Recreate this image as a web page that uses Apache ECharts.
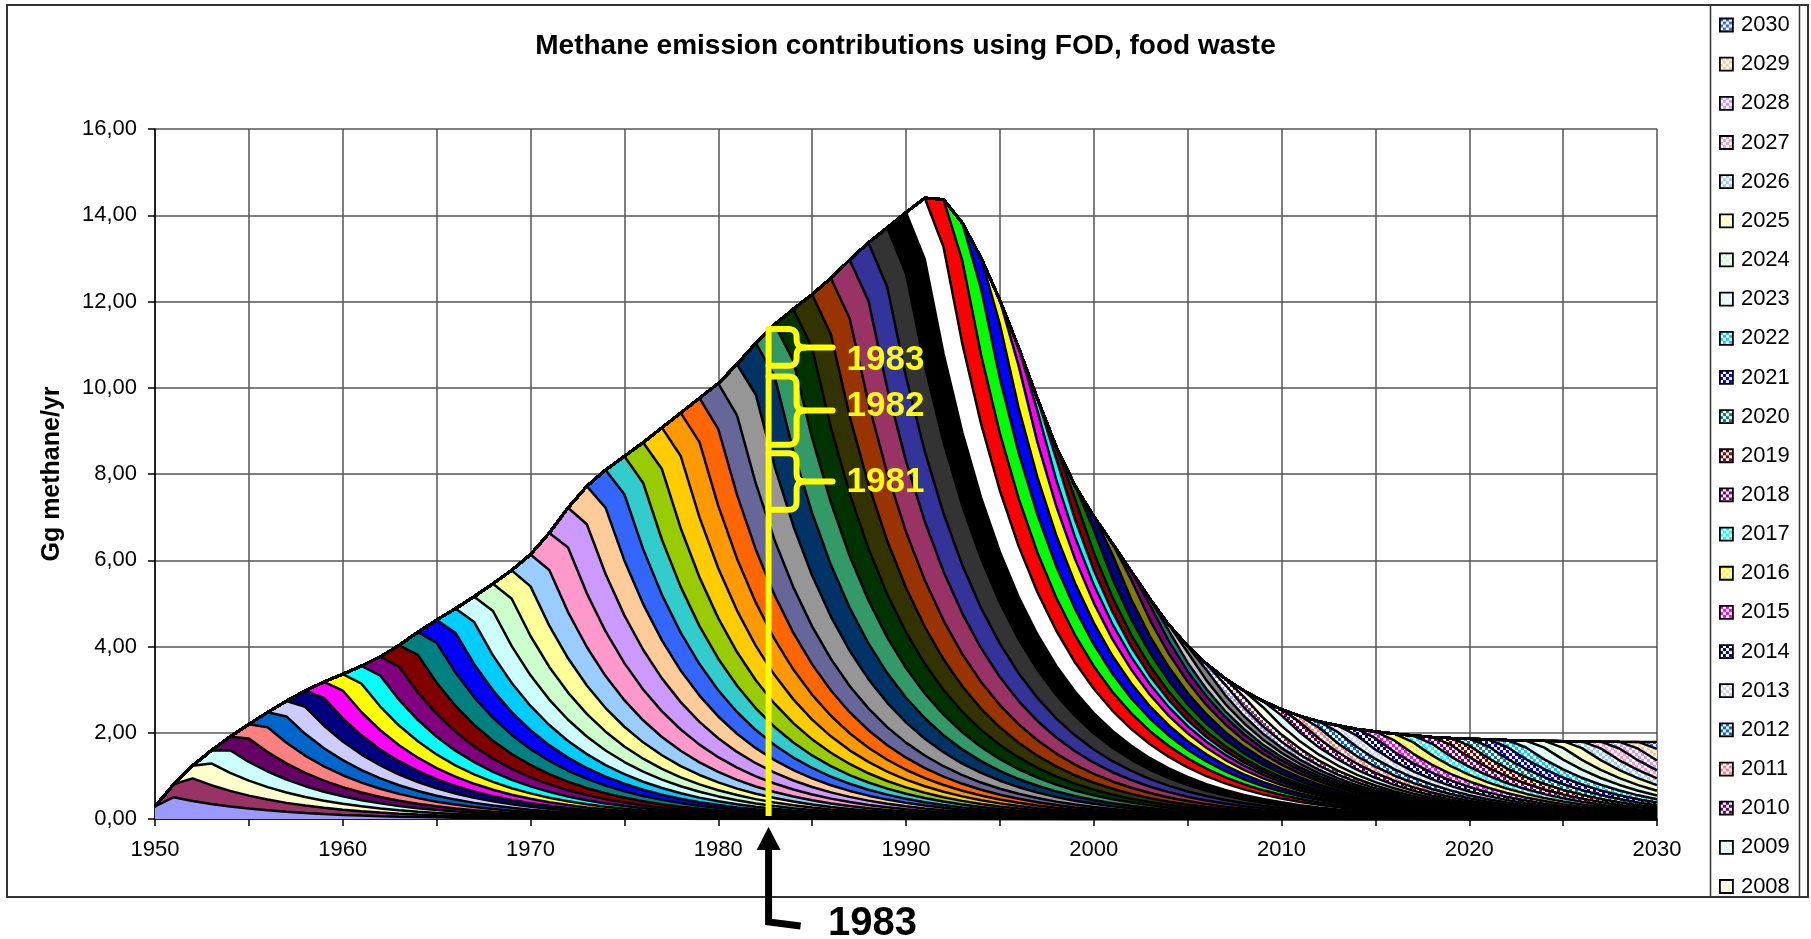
<!DOCTYPE html>
<html>
<head>
<meta charset="utf-8">
<title>Methane emission contributions using FOD, food waste</title>
<script src="https://cdn.jsdelivr.net/npm/echarts@6/dist/echarts.min.js"></script>
<style>
  html, body { margin: 0; padding: 0; background: #ffffff; }
  #chart { width: 1811px; height: 939px; }
</style>
</head>
<body>
<div id="chart"></div>
<script>
// Deposit years (one stacked band per year of landfilled food waste)
const years = [
  1950, 1951, 1952, 1953, 1954, 1955, 1956, 1957, 1958, 1959,
  1960, 1961, 1962, 1963, 1964, 1965, 1966, 1967, 1968, 1969,
  1970, 1971, 1972, 1973, 1974, 1975, 1976, 1977, 1978, 1979,
  1980, 1981, 1982, 1983, 1984, 1985, 1986, 1987, 1988, 1989,
  1990, 1991, 1992, 1993, 1994, 1995, 1996, 1997, 1998, 1999,
  2000, 2001, 2002, 2003, 2004, 2005, 2006, 2007, 2008, 2009,
  2010, 2011, 2012, 2013, 2014, 2015, 2016, 2017, 2018, 2019,
  2020, 2021, 2022, 2023, 2024, 2025, 2026, 2027, 2028, 2029,
  2030
];

// Methane generation potential of the food waste landfilled in each year (Gg CH4)
const depositPotential = [
  3.28, 3.40, 3.28, 3.40, 3.51, 3.74, 3.96, 4.07, 4.19, 4.19,
  4.30, 4.64, 4.98, 5.66, 6.00, 6.00, 6.34, 6.68, 7.13, 7.47,
  8.38, 9.73, 10.41, 9.96, 9.96, 9.96, 10.64, 10.87, 11.32, 11.55,
  12.00, 13.36, 13.58, 13.58, 13.58, 14.04, 14.71, 15.39, 15.28, 15.51,
  16.07, 16.07, 12.45, 9.96, 8.15, 6.34, 4.75, 3.17, 3.17, 3.40,
  3.62, 2.94, 2.26, 1.58, 1.58, 1.58, 1.58, 1.58, 1.58, 1.58,
  1.58, 1.64, 1.68, 1.70, 1.72, 1.73, 1.73, 1.74, 1.75, 1.75,
  1.77, 1.77, 1.77, 1.77, 1.77, 1.77, 1.77, 1.77, 1.77, 1.77,
  1.77
];

// First-order decay rate constant for food waste (1/yr); decay starts mid-year
const decayRate = 0.185;

// Value-axis ticks (Gg methane/yr)
const yTicks = [0, 2, 4, 6, 8, 10, 12, 14, 16];

// Legend entries shown (newest first)
const legendYears = [
  2030, 2029, 2028, 2027, 2026, 2025, 2024, 2023, 2022, 2021, 2020, 2019,
  2018, 2017, 2016, 2015, 2014, 2013, 2012, 2011, 2010, 2009, 2008
];

// Highlighted year and the three bands bracketed at that year
const pointerYear = 1983;
const bracketLabels = ['1983', '1982', '1981'];
const bracketTops = [11.36, 10.26, 8.48];
const bracketBottoms = [10.51, 8.68, 7.17];
const bracketLabelLevels = [10.63, 9.57, 7.80];
const pointerTop = 11.4;

// Classic spreadsheet fill palette; series beyond it repeat with a checker pattern
const palette = [
  '#9999FF', '#993366', '#FFFFCC', '#CCFFFF', '#660066', '#FF8080', '#0066CC', '#CCCCFF',
  '#000080', '#FF00FF', '#FFFF00', '#00FFFF', '#800080', '#800000', '#008080', '#0000FF',
  '#00CCFF', '#CCFFFF', '#CCFFCC', '#FFFF99', '#99CCFF', '#FF99CC', '#CC99FF', '#FFCC99',
  '#3366FF', '#33CCCC', '#99CC00', '#FFCC00', '#FF9900', '#FF6600', '#666699', '#969696',
  '#003366', '#339966', '#003300', '#333300', '#993300', '#993366', '#333399', '#333333',
  '#000000', '#FFFFFF', '#FF0000', '#00FF00', '#0000FF', '#FFFF00', '#FF00FF', '#00FFFF',
  '#800000', '#008000', '#000080', '#808000', '#800080', '#008080', '#C0C0C0', '#808080'
];

const FONT = '"Liberation Sans", Arial, Helvetica, sans-serif';

function checker(color) {
  const c = document.createElement('canvas');
  c.width = 6; c.height = 6;
  const g = c.getContext('2d');
  g.fillStyle = '#ffffff';
  g.fillRect(0, 0, 6, 6);
  g.fillStyle = color;
  g.fillRect(0, 0, 3, 3);
  g.fillRect(3, 3, 3, 3);
  return { image: c, repeat: 'repeat' };
}

function bandFill(i) {
  if (i < palette.length) return palette[i];
  return checker(palette[(i - palette.length) % palette.length]);
}

// Share of a deposit's methane potential emitted n years after deposit
function fodShare(n) {
  const k = decayRate;
  if (n < 0) return 0;
  if (n === 0) return 1 - Math.exp(-k / 2);
  return Math.exp(-k * (n - 0.5)) * (1 - Math.exp(-k));
}

const categories = years.map(String);

const series = years.map((depYear, i) => ({
  name: String(depYear),
  type: 'line',
  stack: 'deposits',
  symbol: 'none',
  smooth: false,
  silent: true,
  emphasis: { disabled: true },
  lineStyle: { color: '#000000', width: 2.5 },
  areaStyle: { color: bandFill(i), opacity: 1 },
  data: years.map((y, t) => +(depositPotential[i] * fodShare(t - i)).toFixed(5))
}));

const fillsByName = {};
years.forEach((y, i) => { fillsByName[String(y)] = bandFill(i); });

const chart = echarts.init(document.getElementById('chart'), null, { renderer: 'canvas' });

const option = {
  animation: false,
  backgroundColor: '#ffffff',
  title: {
    text: 'Methane emission contributions using FOD, food waste',
    left: 'center',
    top: 29,
    padding: 0,
    textStyle: { fontFamily: FONT, fontSize: 28, fontWeight: 'bold', color: '#000', lineHeight: 34 }
  },
  grid: { left: 155, top: 129, width: 1502, height: 690, containLabel: false },
  legend: {
    orient: 'vertical',
    left: 1719,
    top: 14,
    padding: 0,
    icon: 'rect',
    itemWidth: 13,
    itemHeight: 13,
    itemGap: 17.16,
    selectedMode: false,
    textStyle: { fontFamily: FONT, fontSize: 22, color: '#000', lineHeight: 22, padding: [0, 0, 0, 3] },
    data: legendYears.map(y => ({
      name: String(y),
      itemStyle: { color: fillsByName[String(y)], borderColor: '#000', borderWidth: 1.8 }
    }))
  },
  xAxis: {
    type: 'category',
    data: categories,
    boundaryGap: false,
    axisLine: { lineStyle: { color: '#000', width: 1.5 } },
    axisTick: { show: true, interval: 4, length: 7, inside: false, lineStyle: { color: '#000', width: 1.5 } },
    axisLabel: { interval: 9, margin: 20, fontFamily: FONT, fontSize: 22, color: '#000' },
    splitLine: { show: true, interval: 4, lineStyle: { color: '#555', width: 1.5 } }
  },
  yAxis: {
    type: 'value',
    min: yTicks[0],
    max: yTicks[yTicks.length - 1],
    interval: yTicks[1] - yTicks[0],
    name: 'Gg methane/yr',
    nameLocation: 'middle',
    nameRotate: 90,
    nameGap: 90,
    nameTextStyle: { fontFamily: FONT, fontSize: 25, fontWeight: 'bold', color: '#000' },
    axisLine: { show: true, lineStyle: { color: '#000', width: 1.5 } },
    axisTick: { show: true, length: 7, inside: false, lineStyle: { color: '#000', width: 1.5 } },
    axisLabel: {
      margin: 18, fontFamily: FONT, fontSize: 22, color: '#000',
      formatter: v => v.toFixed(2).replace('.', ',')
    },
    splitLine: { show: true, lineStyle: { color: '#555', width: 1.5 } }
  },
  series: series
};

chart.setOption(option);

// Annotations: bracketed bands at the highlighted year and the pointer below the axis
const pIdx = years.indexOf(pointerYear);
const toPx = (idx, v) => chart.convertToPixel({ xAxisIndex: 0, yAxisIndex: 0 }, [idx, v]);
const x0 = toPx(pIdx, 0)[0] - 6;
const yZero = toPx(pIdx, 0)[1];
const yAt = v => toPx(pIdx, v)[1];

// Points along a quadratic curve (for the rounded corners of the braces)
function quad(p0, c, p1, steps) {
  const out = [];
  for (let s = 1; s <= steps; s++) {
    const t = s / steps, u = 1 - t;
    out.push([u * u * p0[0] + 2 * u * t * c[0] + t * t * p1[0],
              u * u * p0[1] + 2 * u * t * c[1] + t * t * p1[1]]);
  }
  return out;
}

function braceHalves(xl, yt, yb) {
  const xr = xl + 28, xt = xl + 64, r = 8;
  const ym = (yt + yb) / 2;
  const upper = [[xl, yt], [xr - r, yt]]
    .concat(quad([xr - r, yt], [xr, yt], [xr, yt + r], 6))
    .concat([[xr, ym - r]])
    .concat(quad([xr, ym - r], [xr, ym], [xr + r, ym], 6))
    .concat([[xt, ym]]);
  const lower = [[xr + r, ym]]
    .concat(quad([xr + r, ym], [xr, ym], [xr, ym + r], 6))
    .concat([[xr, yb - r]])
    .concat(quad([xr, yb - r], [xr, yb], [xr - r, yb], 6))
    .concat([[xl, yb]]);
  return [upper, lower];
}

const graphics = [];

// Outer frame and legend box
graphics.push({ type: 'rect', z: 100, silent: true, shape: { x: 1711, y: 899, width: 100, height: 40 }, style: { fill: '#ffffff' } });
graphics.push({ type: 'rect', z: 101, silent: true, shape: { x: 7, y: 5, width: 1801, height: 892 }, style: { fill: 'none', stroke: '#333', lineWidth: 2 } });
graphics.push({ type: 'line', z: 101, silent: true, shape: { x1: 1710.5, y1: 5, x2: 1710.5, y2: 897 }, style: { stroke: '#333', lineWidth: 1.5 } });
graphics.push({ type: 'line', z: 101, silent: true, shape: { x1: 1799.5, y1: 5, x2: 1799.5, y2: 897 }, style: { stroke: '#333', lineWidth: 1.5 } });

// Yellow marker line at the highlighted year
graphics.push({
  type: 'line', z: 110, silent: true,
  shape: { x1: x0, y1: yZero - 3, x2: x0, y2: yAt(pointerTop) },
  style: { stroke: '#FFFF00', lineWidth: 6 }
});

bracketLabels.forEach((lab, i) => {
  const yt = yAt(bracketTops[i]);
  const yb = yAt(bracketBottoms[i]);
  braceHalves(x0, yt, yb).forEach(pts => {
    graphics.push({
      type: 'polyline', z: 110, silent: true,
      shape: { points: pts },
      style: { fill: 'none', stroke: '#FFFF00', lineWidth: 6, lineCap: 'round', lineJoin: 'round' }
    });
  });
  graphics.push({
    type: 'text', z: 111, silent: true,
    x: x0 + 78, y: yAt(bracketLabelLevels[i]),
    style: { text: lab, fill: '#FFFF00', font: 'bold 35px ' + FONT, textAlign: 'left', textVerticalAlign: 'middle' }
  });
});

// Black pointer arrow under the axis
graphics.push({
  type: 'polygon', z: 110, silent: true,
  shape: { points: [[x0, yZero + 8], [x0 - 12, yZero + 31], [x0 + 12, yZero + 31]] },
  style: { fill: '#000' }
});
graphics.push({
  type: 'polyline', z: 110, silent: true,
  shape: { points: [[x0, yZero + 30], [x0, yZero + 103], [x0 + 32, yZero + 107]] },
  style: { stroke: '#000', lineWidth: 7, fill: 'none', lineJoin: 'miter' }
});
graphics.push({
  type: 'text', z: 111, silent: true,
  x: x0 + 104, y: yZero + 105,
  style: { text: String(pointerYear), fill: '#000', font: 'bold 40px ' + FONT, textAlign: 'center', textVerticalAlign: 'middle' }
});

chart.setOption({ graphic: graphics });
</script>
</body>
</html>
